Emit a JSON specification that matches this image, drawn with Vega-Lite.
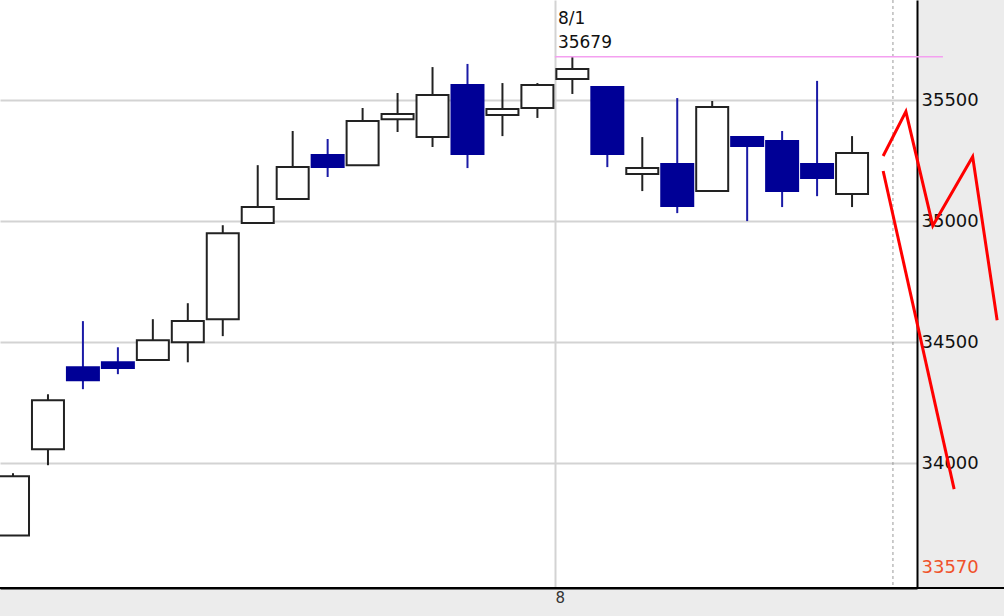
{
  "$schema": "https://vega.github.io/schema/vega-lite/v6.json",
  "width": 917,
  "height": 588,
  "autosize": {"type": "none"},
  "padding": {"left": 0, "top": 0, "right": 87, "bottom": 28},
  "background": "#ececec",
  "config": {"view": {"fill": "white", "stroke": null}, "font": "DejaVu Sans"},
  "datasets": {
    "candles": [
      {"i": 1, "o": 33702, "h": 33959, "l": 33702, "c": 33946},
      {"i": 2, "o": 34058, "h": 34285, "l": 33992, "c": 34260},
      {"i": 3, "o": 34397, "h": 34587, "l": 34306, "c": 34343},
      {"i": 4, "o": 34417, "h": 34479, "l": 34368, "c": 34393},
      {"i": 5, "o": 34426, "h": 34595, "l": 34426, "c": 34508},
      {"i": 6, "o": 34500, "h": 34661, "l": 34417, "c": 34587},
      {"i": 7, "o": 34595, "h": 34983, "l": 34525, "c": 34950},
      {"i": 8, "o": 34992, "h": 35231, "l": 34992, "c": 35058},
      {"i": 9, "o": 35091, "h": 35372, "l": 35091, "c": 35223},
      {"i": 10, "o": 35273, "h": 35339, "l": 35182, "c": 35223},
      {"i": 11, "o": 35231, "h": 35467, "l": 35231, "c": 35413},
      {"i": 12, "o": 35421, "h": 35529, "l": 35368, "c": 35442},
      {"i": 13, "o": 35347, "h": 35636, "l": 35306, "c": 35521},
      {"i": 14, "o": 35562, "h": 35649, "l": 35219, "c": 35277},
      {"i": 15, "o": 35438, "h": 35570, "l": 35351, "c": 35463},
      {"i": 16, "o": 35467, "h": 35570, "l": 35426, "c": 35562},
      {"i": 17, "o": 35587, "h": 35679, "l": 35525, "c": 35628},
      {"i": 18, "o": 35554, "h": 35554, "l": 35223, "c": 35277},
      {"i": 19, "o": 35194, "h": 35347, "l": 35124, "c": 35219},
      {"i": 20, "o": 35236, "h": 35508, "l": 35033, "c": 35062},
      {"i": 21, "o": 35124, "h": 35496, "l": 35124, "c": 35471},
      {"i": 22, "o": 35347, "h": 35347, "l": 35000, "c": 35310},
      {"i": 23, "o": 35331, "h": 35372, "l": 35058, "c": 35124},
      {"i": 24, "o": 35236, "h": 35579, "l": 35103, "c": 35178},
      {"i": 25, "o": 35112, "h": 35351, "l": 35058, "c": 35281}
    ],
    "forecast": [
      {"s": "A", "k": 1, "i": 25.89, "v": 35269},
      {"s": "A", "k": 2, "i": 26.54, "v": 35452},
      {"s": "A", "k": 3, "i": 27.31, "v": 34981},
      {"s": "A", "k": 4, "i": 28.45, "v": 35266},
      {"s": "A", "k": 5, "i": 29.15, "v": 34591},
      {"s": "B", "k": 1, "i": 25.89, "v": 35207},
      {"s": "B", "k": 2, "i": 27.92, "v": 33893}
    ],
    "marker": [
      {"date": "8/1", "i": 16.5, "i2": 27.6, "price": 35679}
    ]
  },
  "layer": [
    {
      "data": {"name": "candles"},
      "mark": {"type": "rule", "strokeWidth": 2},
      "encoding": {
        "x": {
          "field": "i", "type": "quantitative",
          "scale": {"domain": [0.628, 26.858], "nice": false, "zero": false, "padding": 0},
          "axis": {
            "orient": "bottom", "values": [16.5], "labelExpr": "'8'", "title": null,
            "grid": true, "gridColor": "#d3d3d3", "gridWidth": 2,
            "domainColor": "black", "domainWidth": 2, "ticks": false,
            "labelAlign": "left", "labelPadding": 2, "labelFontSize": 15,
            "labelColor": "#333", "labelFont": "DejaVu Sans"
          }
        },
        "y": {
          "field": "l", "type": "quantitative",
          "scale": {"domain": [33485, 35913], "nice": false, "zero": false, "padding": 0},
          "axis": {
            "orient": "right", "values": [33570, 34000, 34500, 35000, 35500], "format": "d",
            "title": null, "grid": true,
            "gridColor": {"condition": {"test": "datum.value === 33570", "value": "transparent"}, "value": "#d3d3d3"},
            "gridWidth": 2, "domainColor": "black", "domainWidth": 2, "ticks": false,
            "labelPadding": 4, "labelFontSize": 18, "labelAlign": "left", "labelFont": "DejaVu Sans",
            "labelColor": {"condition": {"test": "datum.value === 33570", "value": "#f0522a"}, "value": "#111"}
          }
        },
        "y2": {"field": "h"},
        "color": {"condition": {"test": "datum.c >= datum.o", "value": "#222"}, "value": "#1a1aa6"},
        "strokeWidth": {"condition": {"test": "datum.c >= datum.o", "value": 2}, "value": 1.5}
      }
    },
    {
      "data": {"name": "candles"},
      "mark": {"type": "bar", "size": 32, "strokeWidth": 2},
      "encoding": {
        "x": {"field": "i", "type": "quantitative"},
        "y": {"field": "o", "type": "quantitative"},
        "y2": {"field": "c"},
        "fill": {"condition": {"test": "datum.c >= datum.o", "value": "white"}, "value": "#000096"},
        "stroke": {"condition": {"test": "datum.c >= datum.o", "value": "#222"}, "value": "#000096"}
      }
    },
    {
      "data": {"values": [{"pos": 26.17}]},
      "mark": {"type": "rule", "color": "#999", "strokeWidth": 1, "strokeDash": [3, 3]},
      "encoding": {"x": {"field": "pos", "type": "quantitative"}}
    },
    {
      "data": {"values": [{"a": 0.628, "b": 29.4, "y": 33485}]},
      "mark": {"type": "rule", "color": "black", "strokeWidth": 2},
      "encoding": {
        "x": {"field": "a", "type": "quantitative"},
        "x2": {"field": "b"},
        "y": {"field": "y", "type": "quantitative"}
      }
    },
    {
      "data": {"name": "marker"},
      "mark": {"type": "rule", "color": "#f4a0f0", "strokeWidth": 1.5},
      "encoding": {
        "x": {"field": "i", "type": "quantitative"},
        "x2": {"field": "i2"},
        "y": {"field": "price", "type": "quantitative"}
      }
    },
    {
      "data": {"name": "marker"},
      "mark": {"type": "text", "align": "left", "baseline": "alphabetic", "dx": 3, "dy": -9, "fontSize": 17, "color": "#111", "font": "DejaVu Sans"},
      "encoding": {
        "x": {"field": "i", "type": "quantitative"},
        "y": {"field": "price", "type": "quantitative"},
        "text": {"field": "price", "type": "quantitative", "format": "d"}
      }
    },
    {
      "data": {"name": "marker"},
      "mark": {"type": "text", "align": "left", "baseline": "alphabetic", "dx": 3, "dy": -33, "fontSize": 17, "color": "#111", "font": "DejaVu Sans"},
      "encoding": {
        "x": {"field": "i", "type": "quantitative"},
        "y": {"field": "price", "type": "quantitative"},
        "text": {"field": "date", "type": "nominal"}
      }
    },
    {
      "data": {"name": "forecast"},
      "mark": {"type": "line", "color": "#ff0000", "strokeWidth": 3},
      "encoding": {
        "x": {"field": "i", "type": "quantitative"},
        "y": {"field": "v", "type": "quantitative"},
        "detail": {"field": "s", "type": "nominal"},
        "order": {"field": "k", "type": "quantitative"}
      }
    }
  ]
}
